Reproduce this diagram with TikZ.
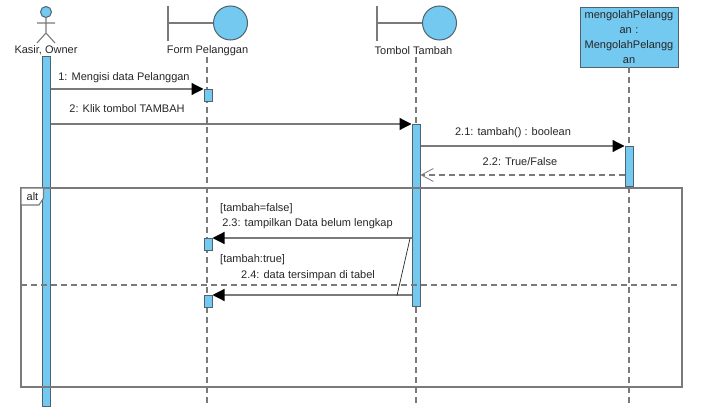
\documentclass[tikz,border=0pt]{standalone}
\usepackage{fontspec}
\setmainfont{Liberation Sans}
\usetikzlibrary{arrows.meta,positioning}
\definecolor{umlblue}{HTML}{74C9F1}
\definecolor{umlline}{HTML}{7A7A7A}
\definecolor{umledge}{HTML}{4F626D}
\tikzset{
  txt/.style={inner sep=0pt,font=\fontsize{11}{15}\selectfont,text=black!85},
  life/.style={draw=umlline,line width=1.2pt,dash pattern=on 6pt off 4pt},
  act/.style={draw=umledge,fill=umlblue,line width=1pt,rectangle,minimum width=8pt,inner sep=0pt},
  bnd/.style={draw=umledge,fill=umlblue,line width=1pt,circle,minimum size=34pt,inner sep=0pt},
  bar/.style={draw=umlline,line width=1.2pt},
  msg/.style={draw=umlline,line width=1.2pt,-{Triangle[length=12pt,width=12pt,fill=black,color=black]}},
  ret/.style={draw=umlline,line width=1.2pt,dash pattern=on 6pt off 4pt,-{Straight Barb[length=12pt,width=13pt,color=umlline,line width=.8pt]}}
}
\begin{document}
\begin{tikzpicture}[x=1pt,y=-1pt]
   \useasboundingbox (0,0) rectangle (704,417);

   % heads
   \node[act,circle,minimum width=11pt] (kasirHead) at (46,12) {};
   \node[bnd] (formCircle) at (230.5,23) {};
   \node[bnd] (tombolCircle) at (439.5,23) {};
   \node[draw=umledge,fill=umlblue,line width=.9pt,rectangle,minimum width=98pt,minimum height=60pt,inner sep=0pt,align=center,txt,text width=96pt] (objBox) at (629,37)
     {mengolahPelangg\\an :\\MengolahPelangg\\an};

   \node[txt] (kasirLabel) at (46,50.5) {Kasir, Owner};
   \node[txt] (formLabel) at (207.5,50.5) {Form Pelanggan};
   \node[txt] (tombolLabel) at (413.5,50.5) {Tombol Tambah};

   % actor
   \coordinate (kasirHip) at (46,33);
   \coordinate (armL) at (37,23);
   \coordinate (armR) at (55,23);
   \coordinate (legL) at (37,43);
   \coordinate (legR) at (55,43);
   \draw[bar,line width=1.1pt] (kasirHead) -- (kasirHip) (armL) -- (armR) (legL) -- (kasirHip) -- (legR);

   % boundaries
   \foreach \name/\x in {form/168,tombol/377} {
     \coordinate (\name Top) at (\x,6);
     \coordinate (\name Bot) at (\x,41);
     \coordinate (\name Mid) at (\x,23);
     \draw[bar] (\name Top) -- (\name Bot) (\name Mid) -- (\name Circle);
   }

   % lifelines
   \coordinate (formEnd) at (207,406);
   \coordinate (tombolEnd) at (416,406);
   \coordinate (objEnd) at (629,406);
   \draw[life] (207,57) -- (formEnd);
   \draw[life] (416,57) -- (tombolEnd);
   \draw[life] (objBox.south) -- (objEnd);

   % activations
   \node[act,minimum height=349pt] (actKasir) at (46,231.5) {};
   \node[act,minimum height=12pt] (actForm1) at (208,95.5) {};
   \node[act,minimum height=182pt] (actTombol) at (416,215.5) {};
   \node[act,minimum height=40pt] (actObj) at (629,166.5) {};
   \node[act,minimum height=12pt] (actForm2) at (208,244.5) {};
   \node[act,minimum height=12pt] (actForm3) at (208,301.5) {};

   % frame
   \coordinate (frameTR) at (682,188);
   \coordinate (frameBL) at (21,387);
   \coordinate (divL) at (21,285);
   \coordinate (divR) at (682,285);
   \draw[bar] (frameTR) -- (21,188) -- (frameBL) -- (frameBL -| frameTR) -- cycle;
   \draw[life] (divL) -- (divR);
   \draw[bar,line width=1.1pt,fill=white] (21,188) -- (43.5,188) -- (43.5,198) -- (39,205) -- (21,205) -- cycle;
   \node[txt] (altLabel) at (32.5,197) {alt};

   % messages
   \draw[msg] (actKasir.east |- actForm1.north) -- (actForm1.north west);
   \draw[msg] (actKasir.east |- actTombol.north) -- (actTombol.north west);
   \draw[msg] (actTombol.east |- actObj.north) -- (actObj.north west);
   \coordinate (retStart) at (actObj.west |- 0,175);
   \draw[ret] (retStart) -- (retStart -| actTombol.east);
   \draw[msg] (actTombol.west |- actForm2.north) -- (actForm2.north east);
   \draw[msg] (actTombol.west |- actForm3.north) -- (actForm3.north east);
   \coordinate (noteTop) at (410,238.5);
   \coordinate (noteBot) at (397,295.5);
   \draw[black!85,line width=.7pt] (noteTop) -- (noteBot);

   \node[txt] (msgA) at (124,77.5) {1: Mengisi data Pelanggan};
   \node[txt] (msgB) at (127,108.5) {2: Klik tombol TAMBAH};
   \node[txt] (msgC) at (513,132.5) {2.1: tambah() : boolean};
   \node[txt] (msgD) at (520,161.5) {2.2: True/False};
   \node[txt,anchor=west] (guardA) at (220,208.5) {[tambah=false]};
   \node[txt] (msgE) at (307.5,224) {2.3: tampilkan Data belum lengkap};
   \node[txt,anchor=west] (guardB) at (220,259.5) {[tambah:true]};
   \node[txt] (msgF) at (308,276) {2.4: data tersimpan di tabel};
\end{tikzpicture}
\end{document}
